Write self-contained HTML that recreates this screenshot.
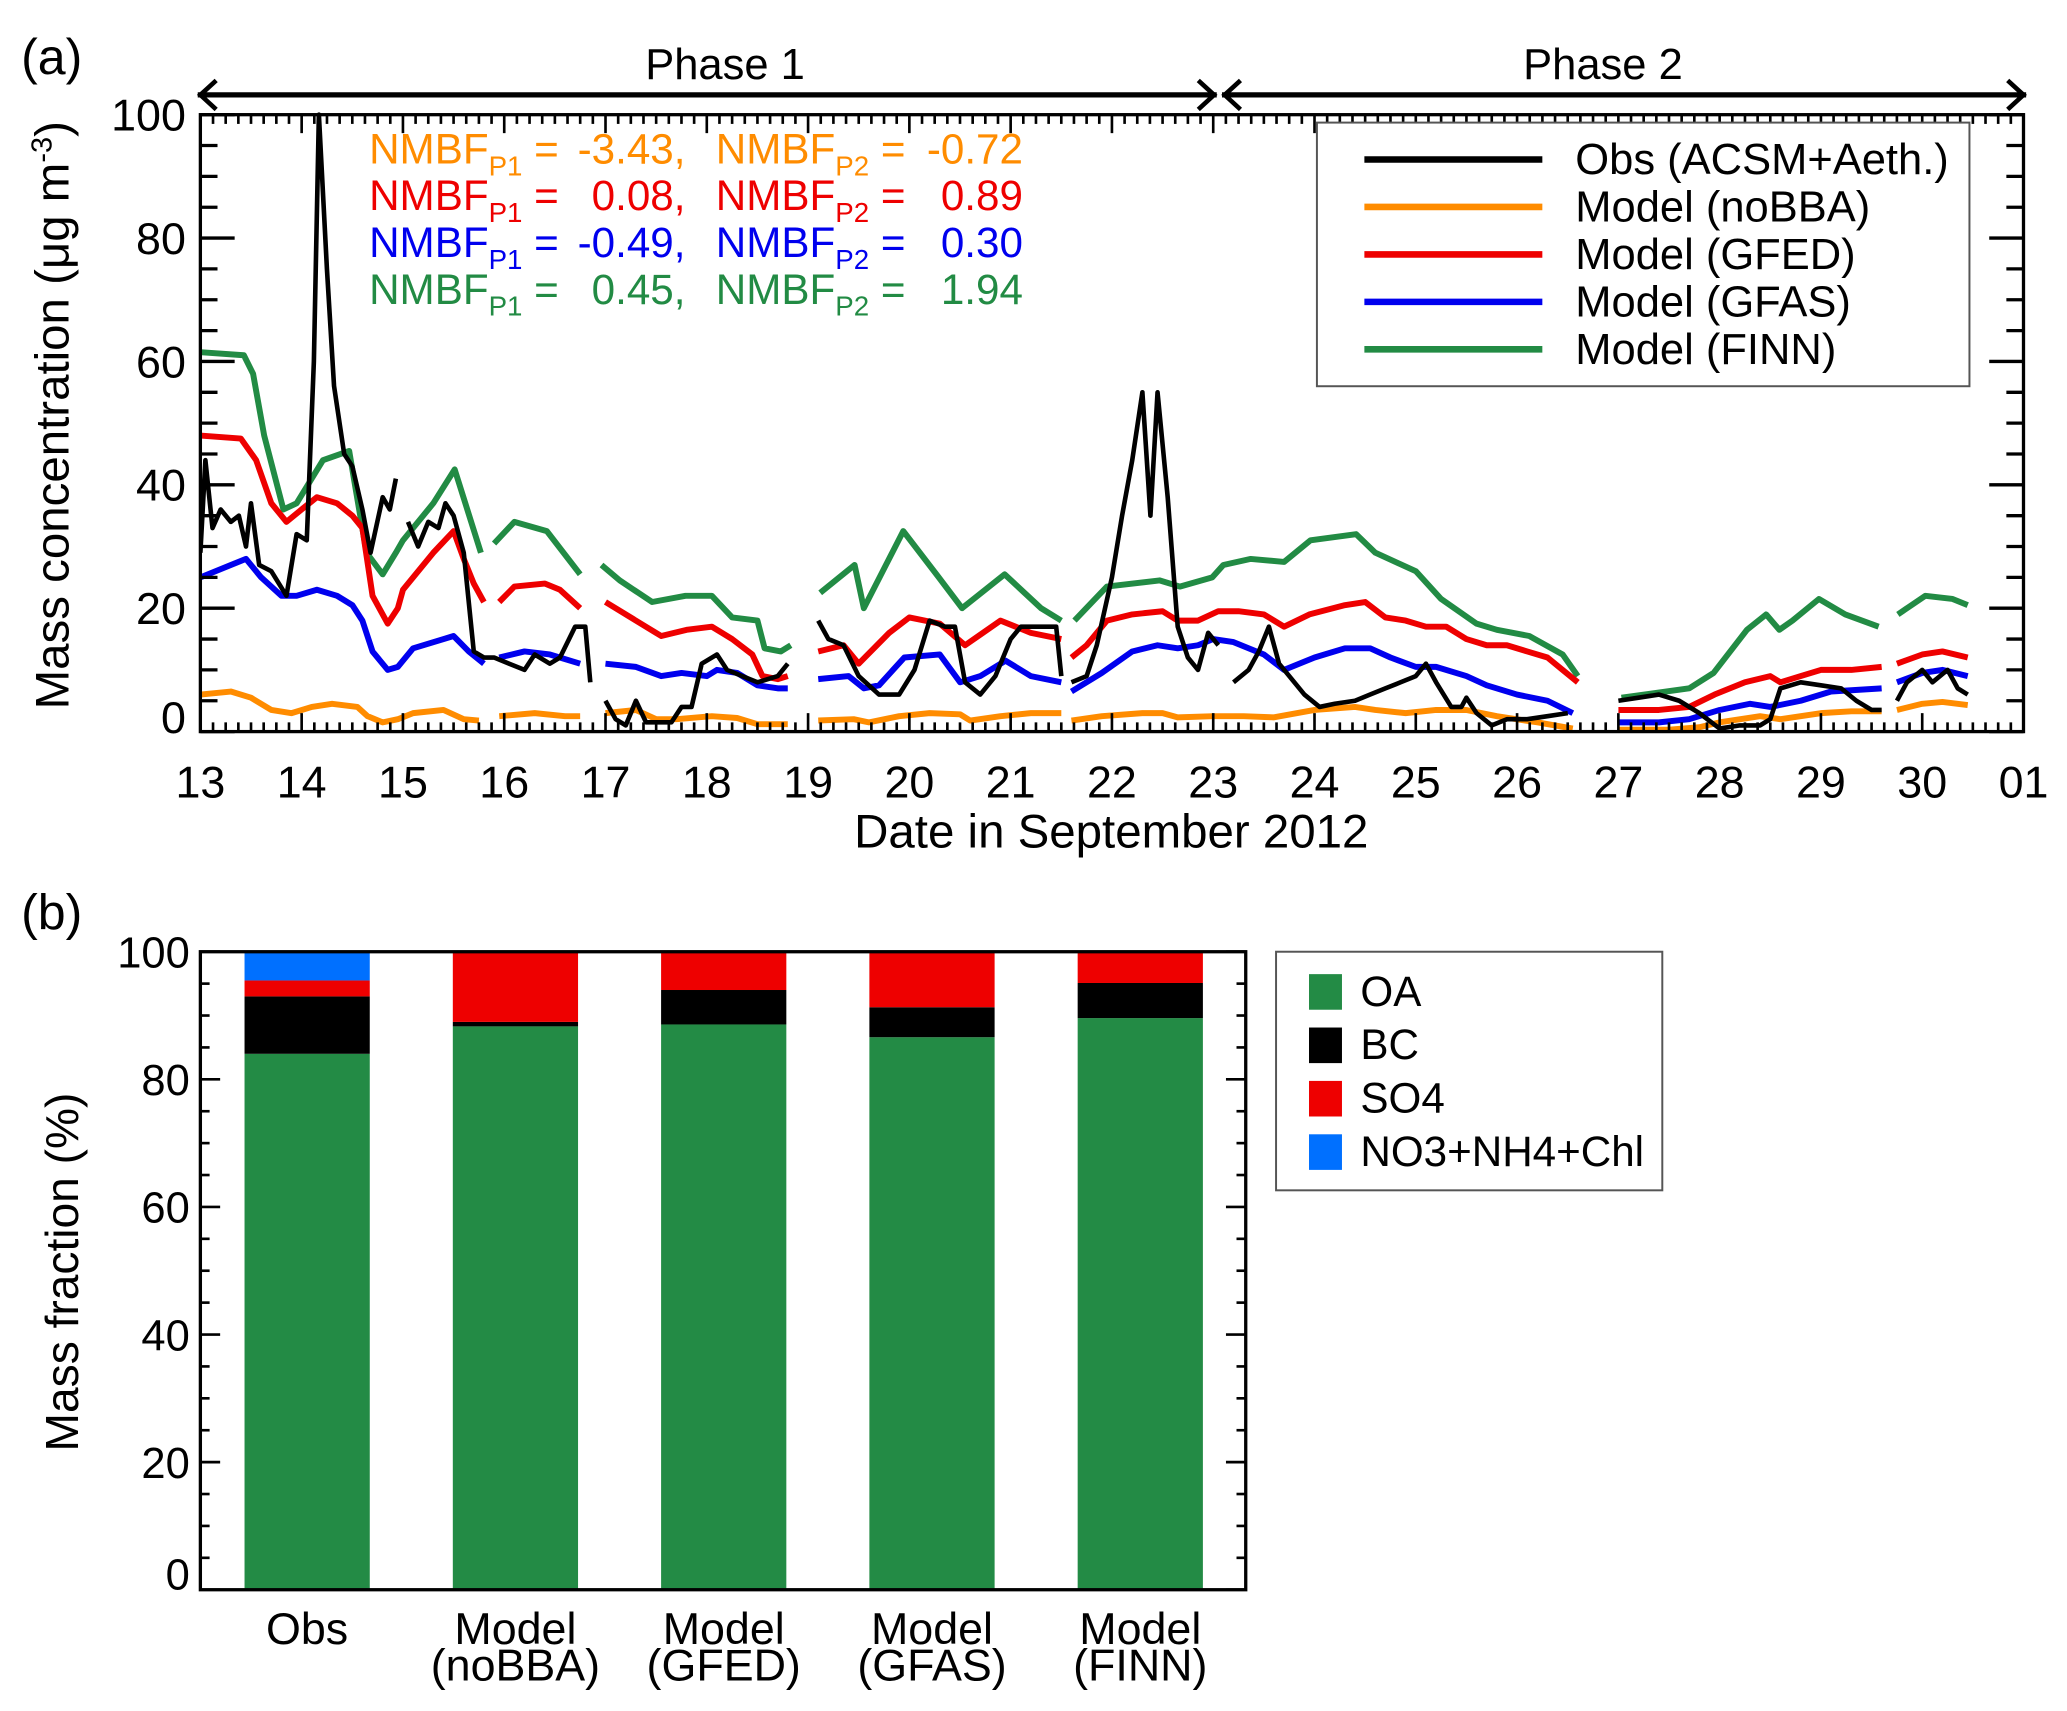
<!DOCTYPE html>
<html><head><meta charset="utf-8"><style>
html,body{margin:0;padding:0;background:#fff}
svg{display:block}
text{font-family:"Liberation Sans",sans-serif}
</style></head><body>
<svg id="fig" width="2067" height="1711" viewBox="0 0 1568 1298" preserveAspectRatio="none">
<g id="pa"></g>
<g id="pb"></g>
</svg>
<script>
// ---------- Panel (a) data: [day, value], null = gap ----------
const obsSeries = [[13.0,29],[13.05,44],[13.12,33],[13.2,36],[13.3,34],[13.38,35],[13.45,30],[13.5,37],[13.58,27],[13.7,26],[13.85,22],[13.95,32],[14.05,31],[14.12,60],[14.17,100],[14.25,75],[14.32,56],[14.42,45],[14.5,43],[14.6,36],[14.68,29],[14.8,38],[14.87,36],[14.93,41],null,[15.05,34],[15.15,30],[15.25,34],[15.35,33],[15.42,37],[15.5,35],[15.6,29],[15.7,13],[15.8,12],[15.9,12],[16.05,11],[16.2,10],[16.3,12.5],[16.45,11],[16.55,12],[16.7,17],[16.8,17],[16.85,8],null,[17.0,5],[17.1,2],[17.2,1],[17.3,5],[17.4,1.5],[17.55,1.5],[17.65,1.5],[17.75,4],[17.85,4],[17.95,11],[18.1,12.5],[18.2,10],[18.35,9],[18.5,8],[18.7,9],[18.8,11],null,[19.1,18],[19.2,15],[19.35,14],[19.5,9],[19.7,6],[19.9,6],[20.05,10],[20.2,18],[20.35,17],[20.45,17],[20.55,8],[20.7,6],[20.85,9],[21.0,15],[21.1,17],[21.25,17],[21.45,17],[21.5,9],null,[21.6,8],[21.75,9],[21.85,14],[22.0,25],[22.1,35],[22.2,44],[22.3,55],[22.38,35],[22.45,55],[22.55,38],[22.65,17],[22.75,12],[22.85,10],[22.95,16],[23.05,14],null,[23.2,8],[23.35,10],[23.45,13],[23.55,17],[23.65,11],[23.75,9],[23.9,6],[24.05,4],[24.2,4.5],[24.4,5],[24.55,6],[24.7,7],[24.85,8],[25.0,9],[25.1,11],[25.2,8],[25.35,4],[25.45,4],[25.5,5.5],[25.6,3],[25.75,1],[25.9,2],[26.1,2],[26.3,2.5],[26.5,3],null,[27.0,5],[27.2,5.5],[27.4,6],[27.6,5],[27.8,3],[28.0,0.5],[28.2,1],[28.4,1],[28.5,2],[28.6,7],[28.8,8],[29.0,7.5],[29.2,7],[29.35,5],[29.5,3.5],[29.6,3.5],null,[29.75,5],[29.85,8],[30.0,10],[30.1,8],[30.25,10],[30.35,7],[30.45,6]];
const noBBASeries = [[13.0,6],[13.3,6.5],[13.5,5.5],[13.7,3.5],[13.9,3],[14.1,4],[14.3,4.5],[14.55,4],[14.65,2.5],[14.8,1.5],[14.95,2],[15.1,3],[15.4,3.5],[15.6,2],[15.75,1.8],null,[15.95,2.5],[16.3,3],[16.6,2.5],[16.75,2.5],null,[17.0,3],[17.3,3.5],[17.5,2],[17.7,2],[18.05,2.5],[18.3,2.2],[18.5,1.2],[18.8,1.2],null,[19.1,1.8],[19.45,2],[19.6,1.5],[19.9,2.5],[20.2,3],[20.5,2.8],[20.6,1.8],[20.9,2.5],[21.2,3],[21.5,3],null,[21.6,1.8],[21.9,2.5],[22.3,3],[22.5,3],[22.65,2.3],[23.0,2.5],[23.3,2.5],[23.6,2.3],[24.0,3.5],[24.4,4],[24.6,3.5],[24.9,3],[25.2,3.5],[25.5,3.5],[25.8,2.5],[26.2,1.5],[26.55,0.5],null,[27.0,0.3],[27.5,0.3],[27.8,0.7],[28.0,1.5],[28.4,2.5],[28.6,2],[29.0,3],[29.3,3.3],[29.6,3.3],null,[29.75,3.5],[30.0,4.5],[30.2,4.8],[30.45,4.3]];
const gfedSeries = [[13.0,48],[13.4,47.5],[13.55,44],[13.7,37],[13.85,34],[14.0,36],[14.15,38],[14.35,37],[14.5,35],[14.6,33],[14.7,22],[14.85,17.5],[14.95,20],[15.0,23],[15.3,29],[15.5,32.5],[15.6,28],[15.7,24],[15.8,21],null,[15.95,21],[16.1,23.5],[16.4,24],[16.55,23],[16.75,20],null,[17.0,21],[17.3,18],[17.55,15.5],[17.8,16.5],[18.05,17],[18.25,15],[18.45,12.5],[18.55,9],[18.7,8.5],[18.8,9],null,[19.1,13],[19.35,14],[19.5,11],[19.8,16],[20.0,18.5],[20.3,17.5],[20.55,14],[20.9,18],[21.2,16],[21.5,15],null,[21.6,12],[21.75,14],[21.95,18],[22.2,19],[22.5,19.5],[22.65,18],[22.85,18],[23.05,19.5],[23.25,19.5],[23.5,19],[23.7,17],[23.95,19],[24.3,20.5],[24.5,21],[24.7,18.5],[24.9,18],[25.1,17],[25.3,17],[25.5,15],[25.7,14],[25.9,14],[26.1,13],[26.3,12],[26.45,10],[26.6,8],null,[27.0,3.5],[27.4,3.5],[27.7,4],[27.95,6],[28.25,8],[28.5,9],[28.6,8],[28.8,9],[29.0,10],[29.3,10],[29.6,10.5],null,[29.75,11],[30.0,12.5],[30.2,13],[30.45,12]];
const gfasSeries = [[13.0,25],[13.3,27],[13.45,28],[13.6,25],[13.8,22],[13.95,22],[14.15,23],[14.35,22],[14.5,20.5],[14.6,18],[14.7,13],[14.85,10],[14.95,10.5],[15.1,13.5],[15.5,15.5],[15.65,13],[15.8,11],null,[15.95,12],[16.2,13],[16.45,12.5],[16.75,11],null,[17.0,11],[17.3,10.5],[17.55,9],[17.75,9.5],[18.0,9],[18.1,10],[18.3,9.5],[18.5,7.5],[18.7,7],[18.8,7],null,[19.1,8.5],[19.4,9],[19.55,7],[19.7,7.5],[19.95,12],[20.3,12.5],[20.5,8],[20.7,9],[20.95,11.5],[21.2,9],[21.5,8],null,[21.6,6.5],[21.9,9.5],[22.2,13],[22.45,14],[22.65,13.5],[22.85,14],[23.0,15],[23.2,14.5],[23.5,12.5],[23.7,10],[24.0,12],[24.3,13.5],[24.55,13.5],[24.75,12],[25.0,10.5],[25.2,10.5],[25.5,9],[25.7,7.5],[26.0,6],[26.3,5],[26.55,3],null,[27.0,1.5],[27.4,1.5],[27.7,2],[28.0,3.5],[28.3,4.5],[28.5,4],[28.8,5],[29.1,6.5],[29.6,7],null,[29.75,8],[30.0,9.5],[30.2,10],[30.45,9]];
const finnSeries = [[13.0,61.5],[13.43,61],[13.52,58],[13.63,48],[13.82,36],[13.95,37],[14.21,44],[14.47,45.5],[14.64,29],[14.8,25.5],[14.93,29],[15.0,31],[15.3,37],[15.51,42.5],[15.77,29],null,[15.9,30.5],[16.1,34],[16.42,32.5],[16.75,25.5],null,[16.96,27],[17.14,24.5],[17.46,21],[17.79,22],[18.05,22],[18.25,18.5],[18.5,18],[18.57,13.5],[18.73,13],[18.83,14],null,[19.12,22.5],[19.46,27],[19.55,20],[19.94,32.5],[20.29,25],[20.52,20],[20.94,25.5],[21.3,20],[21.5,18],null,[21.63,18],[21.95,23.5],[22.47,24.5],[22.67,23.5],[22.99,25],[23.1,27],[23.37,28],[23.7,27.5],[23.96,31],[24.41,32],[24.6,29],[24.8,27.5],[25.0,26],[25.25,21.5],[25.6,17.5],[25.8,16.5],[26.12,15.5],[26.45,12.5],[26.6,9],null,[27.03,5.5],[27.7,7],[27.94,9.5],[28.27,16.5],[28.46,19],[28.59,16.5],[28.72,18],[28.98,21.5],[29.24,19],[29.57,17],null,[29.76,19],[30.03,22],[30.3,21.5],[30.45,20.5]];
const seriesNames = ["Obs (ACSM+Aeth.)","Model (noBBA)","Model (GFED)","Model (GFAS)","Model (FINN)"];
const xTickLabels = ["13","14","15","16","17","18","19","20","21","22","23","24","25","26","27","28","29","30","01"];
const yTickLabelsA = [0,20,40,60,80,100];
// ---------- Panel (b) data ----------
const barCategories = [["Obs"],["Model","(noBBA)"],["Model","(GFED)"],["Model","(GFAS)"],["Model","(FINN)"]];
const oaValues = [84,88.3,88.6,86.6,89.6];
const bcValues = [9,0.7,5.4,4.7,5.5];
const so4Values = [2.5,11,6,8.7,4.9];
const no3Values = [4.5,0,0,0,0];
const componentNames = ["OA","BC","SO4","NO3+NH4+Chl"];
const yTickLabelsB = [0,20,40,60,80,100];

const NS="http://www.w3.org/2000/svg";
function mk(parent,tag,attrs,txt){const e=document.createElementNS(NS,tag);for(const k in attrs)e.setAttribute(k,attrs[k]);if(txt!==undefined)e.textContent=txt;parent.appendChild(e);return e;}

// ===== Panel A =====
const pa=document.getElementById('pa');
const AX0=152,AX1=1535,AY0=555,AY1=87;
const xA=d=>AX0+(d-13)*(AX1-AX0)/18;
const yA=v=>AY0-(v)*(AY0-AY1)/100;
const colors=["#000000","#ff8c00","#ee0000","#0000ee","#228b44"];
const widths=[3.5,4.5,4.5,4.5,4.5];
const allSeries=[obsSeries,noBBASeries,gfedSeries,gfasSeries,finnSeries];
const clip=mk(pa,'clipPath',{id:'clipA'});
mk(clip,'rect',{x:AX0,y:AY1-2,width:AX1-AX0,height:AY0-AY1+2});
const order=[4,2,3,1,0];
order.forEach(si=>{
  const s=allSeries[si];let d='',pen=false;
  s.forEach(p=>{if(p===null){pen=false;return;}d+=(pen?'L':'M')+xA(p[0]).toFixed(1)+','+yA(p[1]).toFixed(1);pen=true;});
  const path=mk(pa,'path',{d:d,fill:'none',stroke:colors[si],'stroke-width':widths[si],'stroke-linejoin':'round','clip-path':'url(#clipA)'});
  
  
});
const frameA=mk(pa,'rect',{x:AX0,y:AY1,width:AX1-AX0,height:AY0-AY1,fill:'none',stroke:'#000','stroke-width':2.5});


for(let i=0;i<=18*8;i++){const d=13+i/8;const x=xA(d);const maj=i%8===0;const L=maj?14:7;
  mk(pa,'line',{x1:x,y1:AY0,x2:x,y2:AY0-L,stroke:'#000','stroke-width':2});
  mk(pa,'line',{x1:x,y1:AY1,x2:x,y2:AY1+L,stroke:'#000','stroke-width':2});}
xTickLabels.forEach((t,i)=>{const e=mk(pa,'text',{x:xA(13+i),y:605,'font-size':34,'text-anchor':'middle'},t);
  
  });
for(let v=0;v<=100;v+=5){const y=yA(v);const maj=v%20===0;const L=maj?26:13;
  mk(pa,'line',{x1:AX0,y1:y,x2:AX0+L,y2:y,stroke:'#000','stroke-width':2.5});
  mk(pa,'line',{x1:AX1,y1:y,x2:AX1-L,y2:y,stroke:'#000','stroke-width':2.5});}
yTickLabelsA.forEach(v=>{const e=mk(pa,'text',{x:141,y:yA(v)+(v===0?1:12),'font-size':34,'text-anchor':'end'},String(v));
  
  });
let t=mk(pa,'text',{x:843,y:643,'font-size':36,'text-anchor':'middle'},'Date in September 2012');

t=mk(pa,'text',{x:0,y:0,'font-size':36,'text-anchor':'middle',transform:'translate(52,315) rotate(-90)'});

t.innerHTML='Mass concentration (μg m<tspan dy="-13" font-size="22">-3</tspan><tspan dy="13">)</tspan>';
t=mk(pa,'text',{x:16,y:56,'font-size':38},'(a)');
function arrow(x1,x2){mk(pa,'line',{x1:x1,y1:72,x2:x2,y2:72,stroke:'#000','stroke-width':4});
  mk(pa,'path',{d:`M${x1+14},61 L${x1+2},72 L${x1+14},83`,fill:'none',stroke:'#000','stroke-width':3.5});
  mk(pa,'path',{d:`M${x2-14},61 L${x2-2},72 L${x2-14},83`,fill:'none',stroke:'#000','stroke-width':3.5});}
arrow(150,923);arrow(927,1537);
t=mk(pa,'text',{x:550,y:60,'font-size':33,'text-anchor':'middle'},'Phase 1');
t=mk(pa,'text',{x:1216,y:60,'font-size':33,'text-anchor':'middle'},'Phase 2');
// NMBF
const nmbf=[["-3.43,","-0.72"],["0.08,","0.89"],["-0.49,","0.30"],["0.45,","1.94"]];
const ncol=["#ff8c00","#ee0000","#0000ee","#228b44"];
nmbf.forEach((r,i)=>{const y=124+i*35.5;
  [[280,r[0],'P1',520],[543,r[1],'P2',776]].forEach(([x0,val,sub,xe])=>{
    const e=mk(pa,'text',{x:x0,y:y,'font-size':32,fill:ncol[i]});
    
    e.innerHTML=`NMBF<tspan dy="9" font-size="21">${sub}</tspan><tspan dy="-9"> =</tspan>`;
    const v=mk(pa,'text',{x:xe,y:y,'font-size':32,fill:ncol[i],'text-anchor':'end'},val);
    
  });
});
const lgA=mk(pa,'g',{});
mk(lgA,'rect',{x:999,y:93,width:495,height:200,fill:'#fff',stroke:'#555','stroke-width':1.5});
seriesNames.forEach((n,i)=>{const y=121+i*36;
  mk(lgA,'line',{x1:1035,y1:y,x2:1170,y2:y,stroke:colors[i],'stroke-width':5});
  const e=mk(lgA,'text',{x:1195,y:y+11,'font-size':33},n);
  });

// ===== Panel B =====
const pb=document.getElementById('pb');
const BX0=152,BX1=945,BY0=1206,BY1=722;
const yB=v=>BY0-v*(BY0-BY1)/100;
const barW=95,barStep=158,barStart=233;
const xB=i=>barStart+i*barStep;
const compColors=["#238b45","#000000","#ee0000","#0070ff"];
const comps=[oaValues,bcValues,so4Values,no3Values];
barCategories.forEach((c,i)=>{let base=0;
  comps.forEach((arr,k)=>{const v=arr[i];if(v<=0)return;
    const r=mk(pb,'rect',{x:xB(i)-barW/2,y:yB(base+v),width:barW,height:yB(base)-yB(base+v),fill:compColors[k]});
    
    
    base+=v;});
  c.forEach((line,j)=>{const e=mk(pb,'text',{x:xB(i),y:1247+j*28,'font-size':34,'text-anchor':'middle'},line);
    });
});
const frameB=mk(pb,'rect',{x:BX0,y:BY1,width:BX1-BX0,height:BY0-BY1,fill:'none',stroke:'#000','stroke-width':2.5});

for(let v=0;v<=100;v+=5){const y=yB(v);const L=v%20===0?15:7;
  mk(pb,'line',{x1:BX0,y1:y,x2:BX0+L,y2:y,stroke:'#000','stroke-width':2});
  mk(pb,'line',{x1:BX1,y1:y,x2:BX1-L,y2:y,stroke:'#000','stroke-width':2});}
yTickLabelsB.forEach(v=>{const e=mk(pb,'text',{x:144,y:yB(v)+(v===0?0:12),'font-size':33,'text-anchor':'end'},String(v));
  });
t=mk(pb,'text',{x:0,y:0,'font-size':35,'text-anchor':'middle',transform:'translate(59,965) rotate(-90)'},'Mass fraction (%)');

t=mk(pb,'text',{x:16,y:705,'font-size':38},'(b)');
const lgB=mk(pb,'g',{});
mk(lgB,'rect',{x:968,y:722,width:293,height:181,fill:'#fff',stroke:'#555','stroke-width':1.5});
componentNames.forEach((n,i)=>{const y=752+i*40.5;
  mk(lgB,'rect',{x:993,y:y-13,width:25,height:27,fill:compColors[i]});
  const e=mk(lgB,'text',{x:1032,y:y+11,'font-size':32},n);
  });
</script>
</body></html>
